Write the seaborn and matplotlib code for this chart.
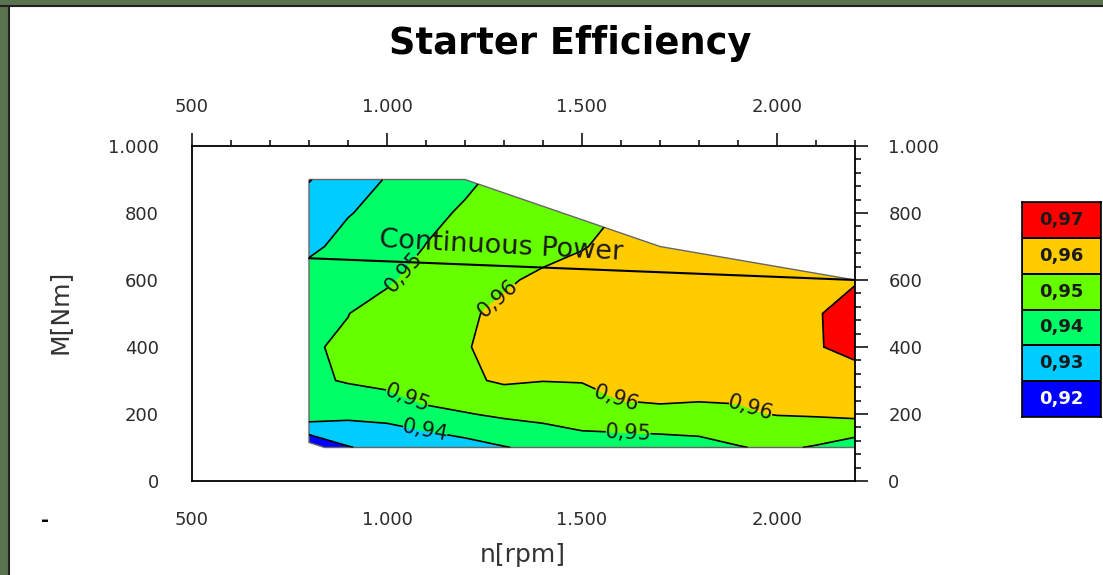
import numpy as np
import matplotlib
matplotlib.use("Agg")
import matplotlib.pyplot as plt
import matplotlib.ticker as ticker
from matplotlib.colors import ListedColormap
from matplotlib.patches import Polygon, Rectangle
from matplotlib.lines import Line2D
import seaborn as sns

# grid (rpm columns, torque rows)
rpm = [800, 900, 1000, 1100, 1200, 1300, 1400, 1500, 1600, 1700, 1800, 1900, 2000, 2100, 2200]
torque = [100, 150, 200, 300, 400, 500, 600, 700, 800, 900]

# efficiency per rpm column, from 100 Nm up to 900 Nm
eff_800 = [0.925, 0.9315, 0.9475, 0.9485, 0.949, 0.9475, 0.944, 0.938, 0.935, 0.9295]
eff_900 = [0.9295, 0.935, 0.943, 0.9507, 0.9515, 0.9498, 0.947, 0.943, 0.9395, 0.936]
eff_1000 = [0.933, 0.938, 0.9425, 0.953, 0.955, 0.9545, 0.9485, 0.946, 0.943, 0.9405]
eff_1100 = [0.936, 0.9401, 0.948, 0.9555, 0.958, 0.957, 0.954, 0.9502, 0.948, 0.946]
eff_1200 = [0.938, 0.9415, 0.9495, 0.9585, 0.9595, 0.959, 0.9575, 0.955, 0.951, 0.9485]
eff_1300 = [0.9395, 0.946, 0.9515, 0.9612, 0.9625, 0.9615, 0.959, 0.9565, 0.954, 0.952]
eff_1400 = [0.9425, 0.948, 0.9525, 0.9602, 0.9635, 0.9635, 0.9615, 0.9575, 0.956, 0.954]
eff_1500 = [0.9445, 0.95, 0.9535, 0.9605, 0.964, 0.965, 0.9635, 0.9595, 0.957, 0.955]
eff_1600 = [0.9455, 0.9505, 0.958, 0.963, 0.9655, 0.966, 0.965, 0.9625, 0.9605, 0.958]
eff_1700 = [0.946, 0.951, 0.9585, 0.9635, 0.966, 0.9665, 0.966, 0.964, 0.962, 0.96]
eff_1800 = [0.947, 0.9515, 0.958, 0.9635, 0.9665, 0.967, 0.9665, 0.965, 0.963, 0.961]
eff_1900 = [0.9495, 0.9535, 0.9585, 0.9635, 0.967, 0.9685, 0.968, 0.966, 0.964, 0.962]
eff_2000 = [0.9515, 0.9545, 0.9605, 0.9645, 0.968, 0.9692, 0.969, 0.967, 0.965, 0.963]
eff_2100 = [0.9492, 0.955, 0.961, 0.9655, 0.9695, 0.9695, 0.968, 0.966, 0.964, 0.962]
eff_2200 = [0.9445, 0.9535, 0.9625, 0.967, 0.972, 0.9725, 0.9695, 0.967, 0.965, 0.963]

# operating envelope
env_rpm = [800, 1200, 1700, 2200, 2200, 840, 800]
env_torque = [900, 900, 700, 600, 100, 100, 115]

# continuous power line
cp_rpm = [800, 2200]
cp_torque = [665, 600]

levels = [0.92, 0.93, 0.94, 0.95, 0.96, 0.97, 0.98]
level_colors = ["#0000ff", "#00ccff", "#00ff66", "#66ff00", "#ffcc00", "#ff0000"]
legend_values = [0.97, 0.96, 0.95, 0.94, 0.93, 0.92]

sns.set_theme(style="white")
plt.rcParams["font.family"] = ["DejaVu Sans"]

Z = np.array([eff_800, eff_900, eff_1000, eff_1100, eff_1200, eff_1300, eff_1400, eff_1500,
              eff_1600, eff_1700, eff_1800, eff_1900, eff_2000, eff_2100, eff_2200]).T
X, Y = np.meshgrid(rpm, torque)

fig = plt.figure(figsize=(11.03, 5.75), dpi=100)
ax = fig.add_axes([192 / 1103, 1 - 481 / 575, 663 / 1103, 335 / 575])

env = list(zip(env_rpm, env_torque))
clip = Polygon(env, closed=True, transform=ax.transData)

cf = ax.contourf(X, Y, Z, levels=levels, colors=level_colors)
cf.set_clip_path(clip)
cl = ax.contour(X, Y, Z, levels=levels[1:-1], colors="black", linewidths=1.2)
cl.set_clip_path(clip)

fmt = lambda v: f"{v:.2f}".replace(".", ",")
label_pos = [(1026, 636), (1282, 549), (1046, 233), (1097, 146),
             (1585, 242), (1931, 212), (1618, 137)]
ax.clabel(cl, fmt=fmt, manual=label_pos,
          inline=True, inline_spacing=4, fontsize=15, colors="#1a1a1a")

ax.add_patch(Polygon(env, closed=True, fill=False, edgecolor="#666666", linewidth=1))

ax.plot(cp_rpm, cp_torque, color="black", linewidth=1.5)
ax.text(1292, 700, "Continuous Power", rotation=-3, ha="center", va="center",
        fontsize=19.5, color="#1a1a1a", rotation_mode="anchor")

ax.set_xlim(500, 2200)
ax.set_ylim(0, 1000)
ax.xaxis.set_major_locator(ticker.MultipleLocator(500))
ax.xaxis.set_minor_locator(ticker.MultipleLocator(100))
ax.yaxis.set_major_locator(ticker.MultipleLocator(200))
ax.yaxis.set_minor_locator(ticker.MultipleLocator(40))
thousands = ticker.FuncFormatter(lambda v, p: f"{int(v):,}".replace(",", "."))
ax.xaxis.set_major_formatter(thousands)
ax.yaxis.set_major_formatter(thousands)
ax.tick_params(which="both", direction="out", top=True, right=True, labeltop=True,
               labelright=True, color="black", width=1.1, labelsize=13, labelcolor="#2b2b2b")
ax.tick_params(which="major", length=9.5)
ax.tick_params(which="minor", length=4)
ax.tick_params(axis="x", which="major", pad=12)
ax.tick_params(axis="y", which="major", pad=14.5)
for s in ax.spines.values():
    s.set_color("black")
    s.set_linewidth(1.3)
ax.set_xlabel("")
ax.set_ylabel("")

fig.text(570 / 1103, 1 - 44 / 575, "Starter Efficiency", ha="center", va="center",
         fontsize=26.5, fontweight="bold", color="black")
fig.text(60 / 1103, 1 - 312 / 575, "M[Nm]", rotation=90, ha="center", va="center",
         fontsize=18, color="#333333")
fig.text(523 / 1103, 1 - 555 / 575, "n[rpm]", ha="center", va="center",
         fontsize=18, color="#333333")
fig.text(45 / 1103, 1 - 520 / 575, "-", ha="center", va="center", fontsize=14,
         fontweight="bold", color="black")

# colour legend boxes
lax = fig.add_axes([1022 / 1103, 1 - 417 / 575, 79 / 1103, 215 / 575])
leg = np.array(legend_values).reshape(-1, 1)
leg_text = np.array([fmt(v) for v in legend_values]).reshape(-1, 1)
sns.heatmap(leg, ax=lax, cmap=ListedColormap(level_colors), vmin=0.915, vmax=0.975,
            annot=leg_text, fmt="", cbar=False, linewidths=1.2, linecolor="black",
            xticklabels=False, yticklabels=False,
            annot_kws={"color": "#1a1a1a", "fontweight": "bold", "fontsize": 13})
lax.texts[-1].set_color("white")
for s in lax.spines.values():
    s.set_visible(True)
    s.set_color("black")
    s.set_linewidth(1.2)

# window frame
green = "#5b7450"
fig.add_artist(Rectangle((0, 1 - 5 / 575), 1, 5 / 575, transform=fig.transFigure,
                         color=green, zorder=10))
fig.add_artist(Rectangle((0, 0), 8 / 1103, 1, transform=fig.transFigure,
                         color=green, zorder=10))
fig.add_artist(Line2D([0, 1], [1 - 6 / 575] * 2, transform=fig.transFigure,
                      color="#222222", linewidth=1.5, zorder=11))
fig.add_artist(Line2D([9 / 1103] * 2, [0, 1 - 6 / 575], transform=fig.transFigure,
                      color="#222222", linewidth=1.5, zorder=11))

fig.savefig("out.png", dpi=100, facecolor="white")
